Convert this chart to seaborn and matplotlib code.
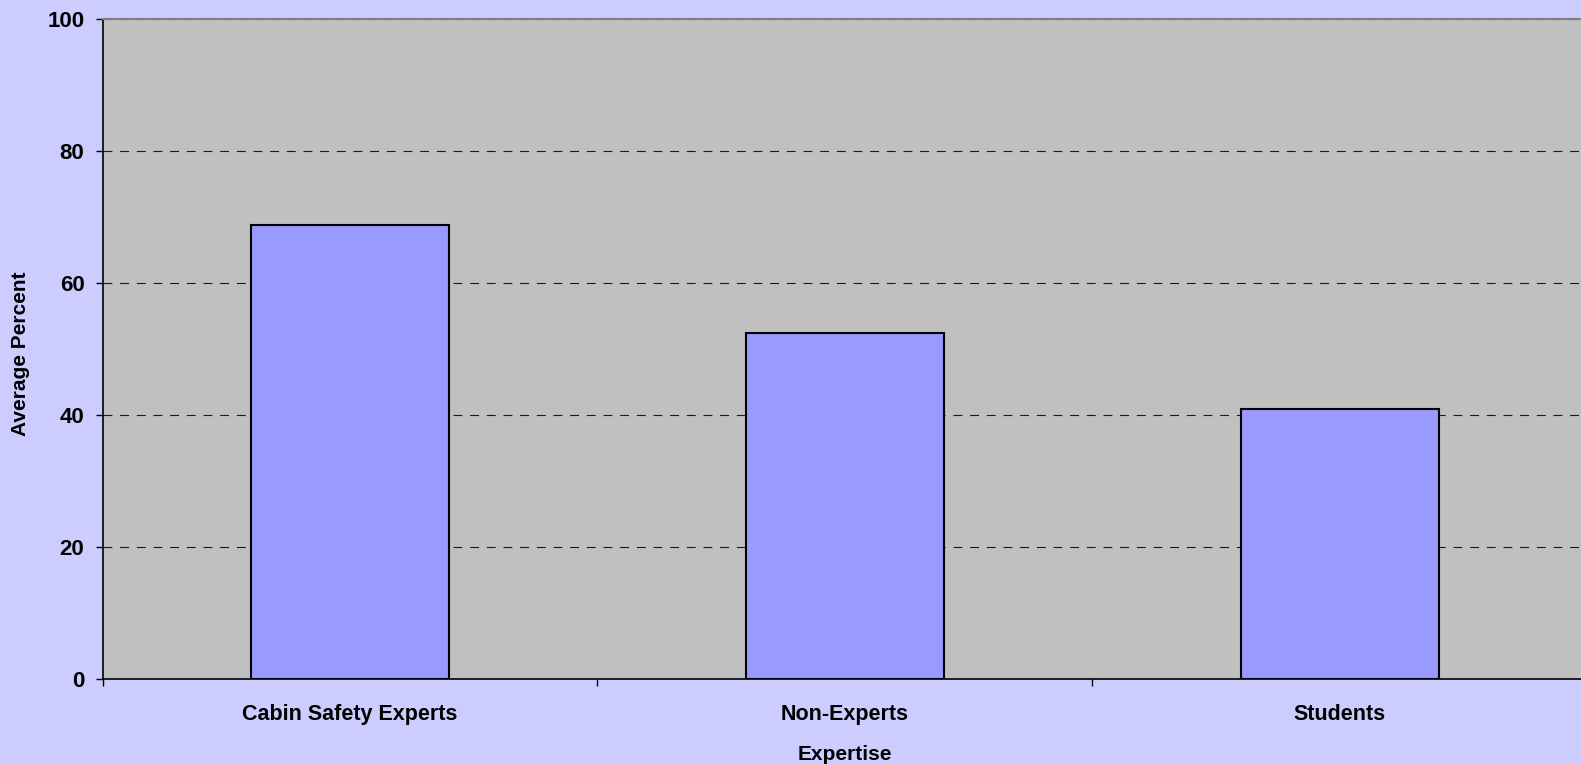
import matplotlib
matplotlib.use("Agg")
import matplotlib.pyplot as plt
import seaborn as sns
import pandas as pd
from matplotlib.ticker import FixedLocator

categories = ["Cabin Safety Experts", "Non-Experts", "Students"]
values = [68.8, 52.4, 40.9]
y_ticks = [0, 20, 40, 60, 80, 100]

sns.set_theme(style="white")
plt.rcParams['font.family'] = ['Liberation Sans', 'DejaVu Sans']
plt.rcParams['text.color'] = 'black'
plt.rcParams['axes.labelcolor'] = 'black'
plt.rcParams['xtick.color'] = 'black'
plt.rcParams['ytick.color'] = 'black'

df = pd.DataFrame({"Expertise": categories, "Average Percent": values})

fig = plt.figure(figsize=(15.81, 7.64), dpi=100, facecolor="#CCCCFF")
ax = fig.add_axes([102.5 / 1581, (764 - 678.7) / 764, 1484.5 / 1581, 660 / 764])
ax.set_facecolor("#C0C0C0")

sns.barplot(data=df, x="Expertise", y="Average Percent", ax=ax, width=0.4,
            color="#9999FF", edgecolor="black", linewidth=1.5, saturation=1, zorder=3)

ax.set_xlim(-0.5, 2.5)
ax.set_ylim(0, 100)
ax.set_yticks(y_ticks)
ax.set_yticklabels([str(t) for t in y_ticks], fontsize=16, fontweight="bold")
ax.yaxis.grid(True, color="#1a1a1a", linestyle=(0, (8, 7)), linewidth=0.8, zorder=1)
ax.xaxis.grid(False)
ax.set_axisbelow(True)

ax.set_xticks(range(len(categories)))
ax.set_xticklabels(categories, fontsize=15.5, fontweight="bold")
ax.tick_params(axis="x", which="major", bottom=True, length=0, pad=18)
ax.xaxis.set_minor_locator(FixedLocator([-0.5, 0.5, 1.5, 2.5]))
ax.tick_params(axis="x", which="minor", bottom=True, length=5, width=1, color="black", direction="out")
ax.tick_params(axis="y", which="major", left=True, length=5, width=1, color="black", direction="out", pad=8)

ax.set_xlabel("Expertise", fontsize=15, fontweight="bold")
ax.set_ylabel("Average Percent", fontsize=15, fontweight="bold")
ax.xaxis.set_label_coords(0.5, -0.1005)
ax.yaxis.set_label_coords(-0.049, 0.4927)

for side in ["left", "bottom"]:
    ax.spines[side].set_color("black")
    ax.spines[side].set_linewidth(1.2)
    ax.spines[side].set_visible(True)
ax.spines["top"].set_color("#808080")
ax.spines["top"].set_linewidth(1.5)
ax.spines["top"].set_visible(True)
ax.spines["right"].set_visible(False)

fig.savefig("out.png", dpi=100, facecolor=fig.get_facecolor())
